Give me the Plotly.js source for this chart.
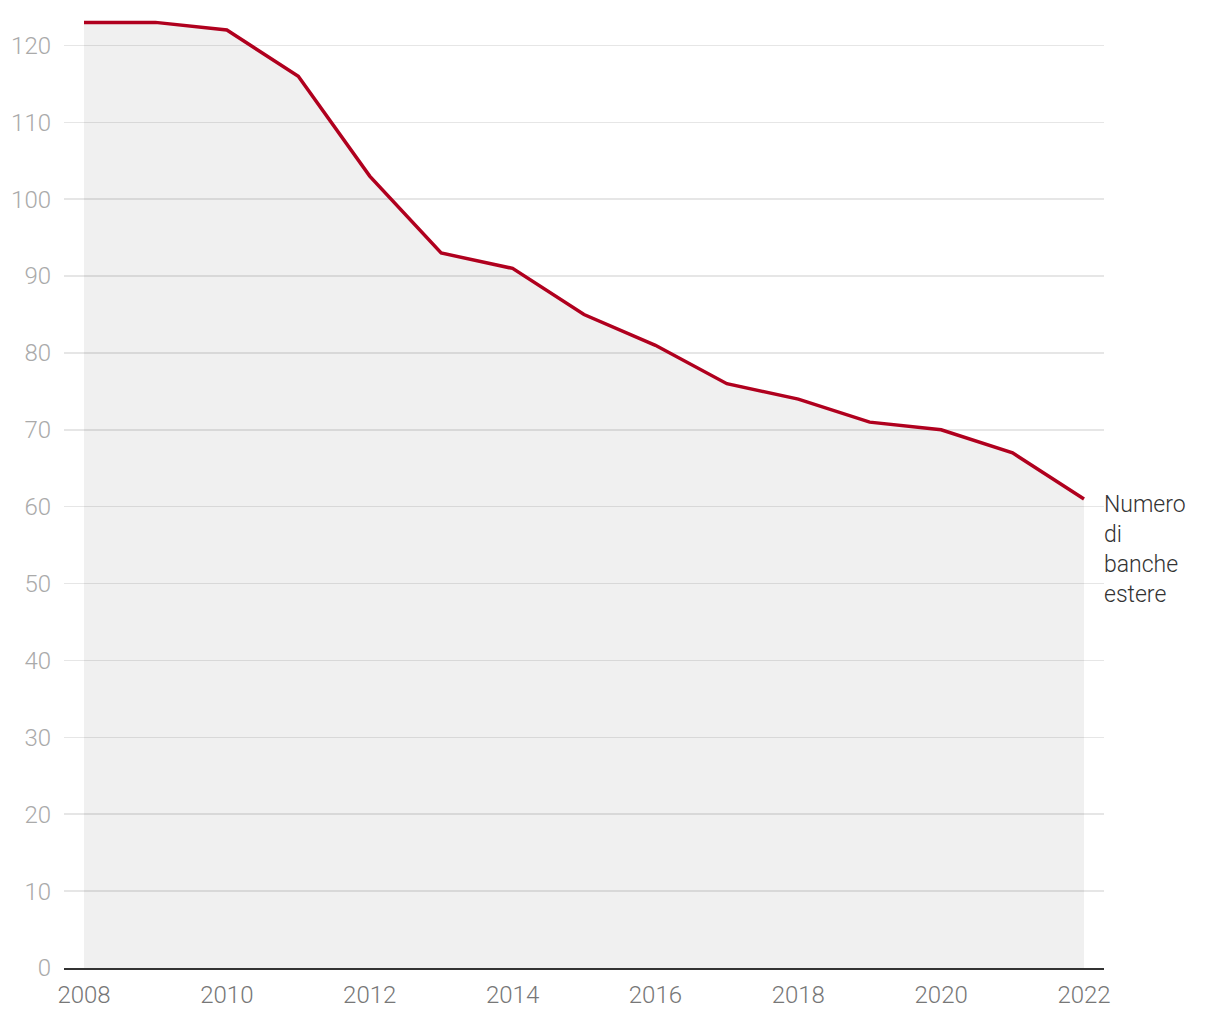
<!DOCTYPE html>
<html><head><meta charset="utf-8">
<script src="https://cdn.plot.ly/plotly-3.0.1.min.js"></script>
<style>body{margin:0;background:#fff}#chart{width:1220px;height:1020px}</style>
</head><body><div id="chart"></div>
<script>
const years = [2008,2009,2010,2011,2012,2013,2014,2015,2016,2017,2018,2019,2020,2021,2022];
const banks = [123,123,122,116,103,93,91,85,81,76,74,71,70,67,61];
const yTicks = [0,10,20,30,40,50,60,70,80,90,100,110,120];
const xTicks = [2008,2010,2012,2014,2016,2018,2020,2022];
const seriesLabel = "Numero<br>di<br>banche<br>estere";

const trace = {
  x: years, y: banks, type: 'scatter', mode: 'lines',
  fill: 'tozeroy', fillcolor: 'rgba(0,0,0,0.06)',
  line: {color: '#b0001e', width: 3.5},
  hoverinfo: 'x+y'
};
const layout = {
  width: 1220, height: 1020,
  margin: {l: 64, r: 116, t: 7, b: 52},
  paper_bgcolor: '#fff', plot_bgcolor: '#fff',
  font: {family: 'Roboto, sans-serif', size: 24, weight: 300},
  showlegend: false,
  xaxis: {
    range: [2007.72, 2022.28], tickvals: xTicks, ticktext: xTicks.map(String),
    showgrid: false, zeroline: false, ticks: '',
    showline: true, linecolor: '#333', linewidth: 2,
    ticklabelstandoff: 4,
    tickfont: {color: '#777', size: 24, weight: 300, family: 'Roboto, sans-serif'}, fixedrange: true
  },
  yaxis: {
    range: [0, 125], tickvals: yTicks, showgrid: true, gridcolor: '#e6e6e6', gridwidth: 1.5,
    zeroline: false, showline: false, ticks: '', ticklabelstandoff: 12,
    tickfont: {color: '#aaa', size: 24, weight: 300, family: 'Roboto, sans-serif'}, fixedrange: true
  },
  annotations: [{
    x: 1, xref: 'paper', y: banks[banks.length - 1], yref: 'y',
    text: seriesLabel, showarrow: false, xanchor: 'left', yanchor: 'top',
    align: 'left', yshift: 10, xshift: -2,
    font: {color: '#333', size: 23, weight: 300, family: 'Roboto, sans-serif'}
  }]
};
Plotly.newPlot('chart', [trace], layout, {displayModeBar: false, staticPlot: true});
</script></body></html>
